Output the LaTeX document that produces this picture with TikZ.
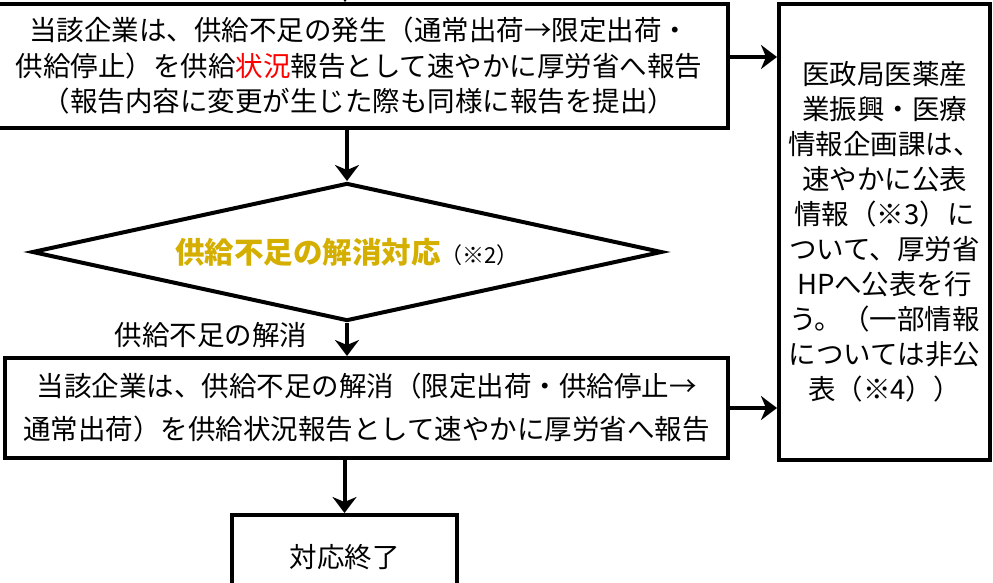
\documentclass[tikz,border=0pt]{standalone}
\usepackage{fontspec}
\setmainfont{Noto Sans CJK JP}
\usetikzlibrary{shapes.geometric,arrows.meta}
\definecolor{alertred}{RGB}{255,0,0}
\definecolor{resolvegold}{RGB}{212,175,0}
\begin{document}
\begin{tikzpicture}[x=1pt, y=-1pt, line width=4pt, >={Stealth[length=16pt,width=24pt,inset=5pt]},
  box/.style={draw, rectangle, align=center, inner sep=0pt, font=\fontsize{27.5}{35.5}\selectfont},
  flow/.style={->}]
\clip (0,0) rectangle (993,583);
% boxes
\node[box, minimum width=738pt, minimum height=124pt] (report) at (359,66)
  {当該企業は、供給不足の発生（通常出荷→限定出荷・\\供給停止）を供給{\color{alertred}状況}報告として速やかに厚労省へ報告\\（報告内容に変更が生じた際も同様に報告を提出）};
\node[draw, diamond, aspect=4.565, minimum width=630pt, minimum height=138pt, inner sep=0pt] (decide) at (347,252)
  {{\fontsize{29.5}{34}\selectfont\bfseries\color{resolvegold}供給不足の解消対応}{\fontsize{22}{26}\selectfont（※2）}};
\node[font=\fontsize{27.5}{34}\selectfont] (fixed) at (211,335) {供給不足の解消};
\node[box, font=\fontsize{27.5}{43}\selectfont, minimum width=723pt, minimum height=100pt] (resolve) at (366.5,408)
  {当該企業は、供給不足の解消（限定出荷・供給停止→\\通常出荷）を供給状況報告として速やかに厚労省へ報告};
\node[box, font=\fontsize{27.5}{35}\selectfont, minimum width=211pt, minimum height=456pt] (publish) at (884.5,232)
  {医政局医薬産\\業振興・医療\\情報企画課は、\\速やかに公表\\情報（※3）に\\ついて、厚労省\\HPへ公表を行\\う。（一部情報\\については非公\\表（※4））};
\node[box, minimum width=225pt, minimum height=84pt] (done) at (344.5,557) {対応終了};
% connectors
\coordinate (from) at (345,-30);
\draw[flow] (from) -- (from |- report.north);
\draw[flow] (decide.north |- report.south) -- (decide.north);
\draw[flow] (decide.south) -- (decide.south |- resolve.north);
\draw[flow] (done.north |- resolve.south) -- (done.north);
\draw[flow] ([yshift=9pt]report.east) -- ([yshift=9pt]report.east -| publish.west);
\draw[flow] (resolve.east) -- (resolve.east -| publish.west);
\end{tikzpicture}
\end{document}
